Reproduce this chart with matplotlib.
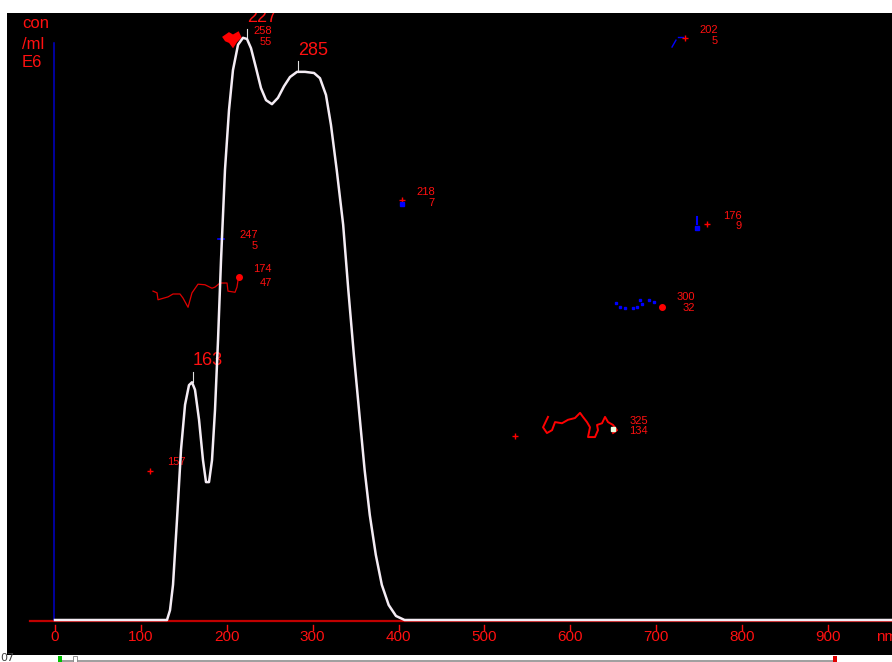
import matplotlib
matplotlib.use("Agg")
import matplotlib.pyplot as plt
from matplotlib.patches import Rectangle
import numpy as np

# ---------------- data ----------------
# main distribution curve (size in nm, concentration con/ml E6)
curve_nm = [0, 130.4, 133.9, 137.4, 142.0, 146.7, 151.4, 156.0, 159.5, 163.0, 167.7, 172.3,
            175.8, 179.3, 182.8, 186.3, 189.8, 193.3, 197.9, 202.6, 207.2, 213.1, 218.9,
            223.5, 228.2, 234.0, 239.8, 245.7, 252.6, 259.6, 266.6, 273.6, 281.8, 291.1,
            301.6, 308.5, 315.5, 321.3, 328.0, 335.5, 341.5, 348.0, 354.5, 360.5, 366.5,
            373.5, 380.5, 388.5, 397.0, 407.0, 980]
curve_con = [0, 0, 1.7, 6.1, 17.3, 29.5, 37.3, 40.7, 41.2, 39.9, 34.7, 27.7,
             23.9, 23.9, 27.7, 36.4, 48.5, 62.4, 78.0, 88.4, 95.3, 99.7, 100.9,
             100.7, 99.1, 95.7, 92.2, 90.1, 89.4, 90.5, 92.5, 94.1, 95.0, 95.0,
             94.8, 93.9, 91.0, 85.8, 78.0, 68.5, 57.2, 45.9, 35.5, 26.0, 18.2,
             11.3, 6.1, 2.6, 0.7, 0, 0]

# peak labels
peak_labels = ["163", "227", "285"]
peak_nm = [160.7, 223.5, 282.9]
peak_con = [41.2, 100.7, 95.0]

# x axis ticks
tick_vals = [0, 100, 200, 300, 400, 500, 600, 700, 800, 900]

# tracked particle traces
trace_a_nm = [114.1, 118.8, 119.9, 131.6, 137.4, 145.5, 149.0, 154.9, 159.5, 166.5, 174.6,
              182.8, 186.3, 192.1, 200.3, 201.4, 209.6, 211.9, 213.1, 214.2]
trace_a_con = [57.0, 56.7, 55.5, 56.0, 56.5, 56.5, 55.8, 54.2, 56.7, 58.2, 58.1,
               57.5, 57.7, 58.4, 58.4, 57.0, 56.8, 57.7, 58.9, 59.4]
trace_b_nm = [196.8, 202.6, 207.2, 213.1, 215.4, 210.7, 207.2, 203.7, 199.1, 196.8]
trace_b_con = [101.0, 101.6, 101.2, 101.7, 101.0, 100.3, 99.5, 100.2, 100.5, 101.0]
trace_g_nm = [574.0, 568.2, 572.8, 578.7, 582.2, 590.3, 597.3, 605.4, 611.3, 614.7, 619.4,
              622.9, 620.6, 628.7, 632.2, 631.1, 636.9, 640.4, 643.9, 649.7, 654.3, 649.7]
trace_g_con = [35.2, 33.4, 32.4, 32.9, 34.3, 34.1, 34.7, 35.0, 35.9, 35.2, 34.3,
               33.4, 31.7, 31.7, 32.9, 33.8, 34.1, 35.2, 34.3, 33.8, 32.9, 32.4]
trace_f_nm = [653.2, 657.8, 663.7, 673.0, 677.6, 681.1, 683.4, 691.2, 697.0]
trace_f_con = [54.9, 54.2, 54.1, 54.1, 54.2, 55.5, 54.8, 55.5, 55.1]
trace_c_nm = [718.4, 723.0]
trace_c_con = [99.3, 100.5]
trace_c2_nm = [725.4, 731.2]
trace_c2_con = [101.0, 101.0]
trace_e_nm = [747.5, 747.5]
trace_e_con = [69.8, 68.6]
trace_s_nm = [189.8, 196.8]
trace_s_con = [66.0, 66.0]

# red cross markers
cross_nm = [733.5, 404.0, 759.1, 535.6, 110.6]
cross_con = [100.9, 72.8, 68.6, 31.9, 25.8]
# blue dots
bdot_nm = [404.0, 747.5]
bdot_con = [72.1, 67.9]
# red dots
rdot_nm = [706.7, 214.2]
rdot_con = [54.2, 59.4]

# small count labels (size, count) with anchor (right edge nm, upper con, lower con)
small_top = ["258", "202", "218", "176", "247", "174", "300", "325"]
small_bot = ["55", "5", "7", "9", "5", "47", "32", "134"]
small_nm = [252.7, 772.0, 442.4, 799.9, 236.4, 252.7, 745.2, 690.4]
small_con_top = [102.1, 102.2, 74.2, 70.1, 66.7, 60.8, 55.9, 34.5]
small_con_bot = [100.2, 100.3, 72.3, 68.3, 64.8, 58.4, 54.1, 32.8]

# ---------------- figure ----------------
W, H = 892, 662
fig = plt.figure(figsize=(W / 100, H / 100), dpi=100)
fig.patch.set_facecolor("white")

RED = "#ff1010"
FONT = ["Liberation Sans", "DejaVu Sans"]

# black display area (below the axes)
fig.patches.append(Rectangle((7 / W, 1 - 655 / H), (W - 7) / W, (655 - 13) / H,
                             transform=fig.transFigure, facecolor="black",
                             edgecolor="none", zorder=0))

ax = fig.add_axes([0, 0, 1, 1])
ax.set_zorder(1)
ax.set_facecolor("none")
ax.patch.set_alpha(0)
px_per_nm = (828 - 55) / 900.0
px_per_con = (620 - 43) / 100.0
ax.set_xlim(-55 / px_per_nm, (W - 55) / px_per_nm)
ax.set_ylim(-(H - 620) / px_per_con, 620 / px_per_con)
ax.axis("off")

# axes lines
ax.plot([-29, 980], [-0.25, -0.25], color="#c00000", lw=1.6, zorder=2)
ax.plot([-1.2, -1.2], [0, 100], color="#0000c8", lw=1.1, zorder=2)

# main curve
ax.plot(curve_nm, curve_con, color="#f4ecf4", lw=1.8, zorder=5)

# ticks
for t in tick_vals:
    ax.plot([t, t], [-0.8, -1.8], color=RED, lw=1.0, zorder=3)
    ax.text(t, -3.0, str(t), color=RED, fontsize=11, family=FONT,
            ha="center", va="center", zorder=3)
ax.text(956, -3.0, "nm", color=RED, fontsize=11, family=FONT, ha="left", va="center")

# y unit label
for lab, yy in zip(["con", "/ml", "E6"], [103.3, 99.8, 96.7]):
    ax.text(-38.4, yy, lab, color=RED, fontsize=12, family=FONT, ha="left", va="center")

# peak labels
for lab, x, y in zip(peak_labels, peak_nm, peak_con):
    ax.plot([x, x], [y, y + 1.8], color="#e0e0e0", lw=0.8, zorder=4)
    ax.text(x, y + 2.3, lab, color=RED, fontsize=13, family=FONT,
            ha="left", va="bottom", zorder=4)

# traces
ax.plot(trace_a_nm, trace_a_con, color="#e00000", lw=0.9, zorder=3)
ax.fill(trace_b_nm, trace_b_con, facecolor="#ff0000", lw=2.0, zorder=3, edgecolor="#ff0000")
ax.plot(trace_g_nm, trace_g_con, color="#ff0000", lw=1.4, zorder=3)
ax.plot(trace_f_nm, trace_f_con, color="#0000ff", lw=0, marker="s", ms=1.6, zorder=3)
ax.plot(trace_c_nm, trace_c_con, color="#0000ff", lw=1.0, zorder=3)
ax.plot(trace_c2_nm, trace_c2_con, color="#0000ff", lw=1.0, zorder=3)
ax.plot(trace_e_nm, trace_e_con, color="#0000ff", lw=1.5, zorder=3)
ax.plot(trace_s_nm, trace_s_con, color="#0000ff", lw=1.2, zorder=3)
ax.plot(cross_nm, cross_con, color="#ff0000", lw=0, marker="+", ms=5, mew=1.0, zorder=3)
ax.plot(bdot_nm, bdot_con, color="#0000ff", lw=0, marker="s", ms=3, zorder=3)
ax.plot(rdot_nm, rdot_con, color="#ff0000", lw=0, marker="o", ms=4, zorder=3)
ax.plot([649.7], [33.1], color="#e8ffe0", lw=0, marker="s", ms=2.5, zorder=4)
ax.text(130.4, 27.4, "157", color=RED, fontsize=8, family=FONT, ha="left", va="center", zorder=3)

for t, b, x, yt, yb in zip(small_top, small_bot, small_nm, small_con_top, small_con_bot):
    ax.text(x, yt, t, color=RED, fontsize=8, family=FONT, ha="right", va="center", zorder=4)
    ax.text(x, yb, b, color=RED, fontsize=8, family=FONT, ha="right", va="center", zorder=4)

# white frame overlays (top & left border) and bottom status strip
fig.patches.append(Rectangle((0, 1 - 13 / H), 1, 13 / H, transform=fig.transFigure,
                             facecolor="white", edgecolor="none", zorder=10))
fig.patches.append(Rectangle((0, 0), 7 / W, 1, transform=fig.transFigure,
                             facecolor="white", edgecolor="none", zorder=10))
fig.patches.append(Rectangle((0, 0), 1, (H - 655) / H, transform=fig.transFigure,
                             facecolor="white", edgecolor="none", zorder=10))
fig.patches.append(Rectangle((62 / W, 0), (835 - 62) / W, 2 / H, transform=fig.transFigure,
                             facecolor="#a0a0a0", edgecolor="none", zorder=11))
fig.patches.append(Rectangle((58 / W, 0), 4 / W, 6 / H, transform=fig.transFigure,
                             facecolor="#00c000", edgecolor="none", zorder=11))
fig.patches.append(Rectangle((73 / W, 0), 4 / W, 6 / H, transform=fig.transFigure,
                             facecolor="white", edgecolor="#808080", lw=0.6, zorder=11))
fig.patches.append(Rectangle((833 / W, 0), 4 / W, 6 / H, transform=fig.transFigure,
                             facecolor="#e00000", edgecolor="none", zorder=11))
fig.text(0.0, -0.002, "07", color="#404040", fontsize=8, ha="left", va="bottom", zorder=12)

fig.savefig("out.png", dpi=100)
